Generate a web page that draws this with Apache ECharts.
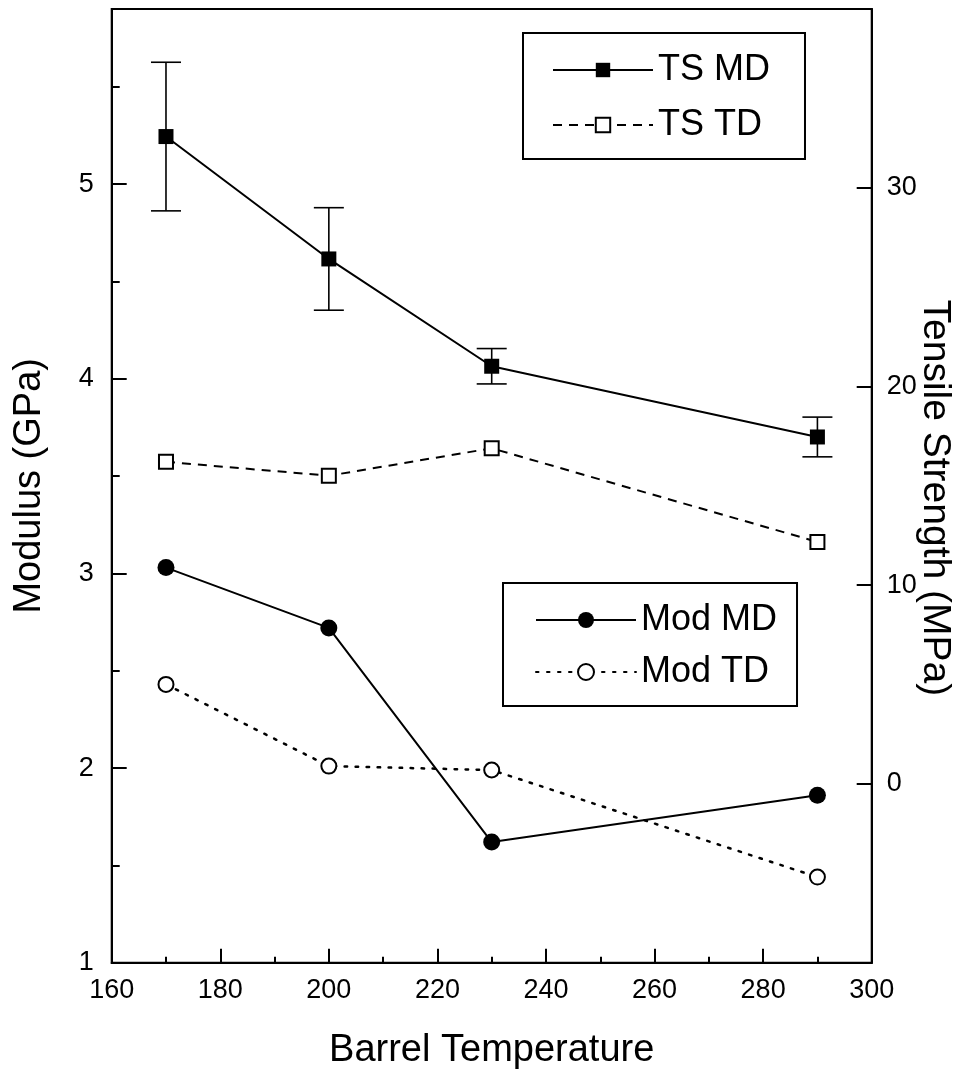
<!DOCTYPE html>
<html><head><meta charset="utf-8">
<script src="https://cdn.jsdelivr.net/npm/echarts@6/dist/echarts.min.js"></script>
<style>html,body{margin:0;padding:0;background:#fff}#c{width:960px;height:1074px}</style>
</head><body><div id="c"></div>
<script>
// ---- data ----
const temps = [170, 200, 230, 290];
const tsMD = [32.58, 26.42, 21.02, 17.46];
const tsMDErr = [3.74, 2.58, 0.89, 1.0];
const tsTD = [16.21, 15.51, 16.89, 12.18];
const modMD = [3.03, 2.72, 1.62, 1.86];
const modTD = [2.43, 2.01, 1.99, 1.44];
const modTicks = [1, 2, 3, 4, 5];
const modMinorTicks = [1.5, 2.5, 3.5, 4.5, 5.5];
const tsTicks = [0, 10, 20, 30];

const FONT = 'Liberation Sans, Arial, Helvetica, sans-serif';
const pair = (xs, ys) => xs.map((x, i) => [x, ys[i]]);
const errData = temps.map((x, i) => [x, tsMD[i] - tsMDErr[i], tsMD[i] + tsMDErr[i]]);

const chart = echarts.init(document.getElementById('c'), null, {renderer: 'canvas'});
const axisLineStyle = {color: '#000', width: 2};
chart.setOption({
  animation: false,
  backgroundColor: '#fff',
  textStyle: {fontFamily: FONT, color: '#000'},
  grid: {left: 111.7, right: 88.3, top: 9, bottom: 111.3, containLabel: false, outerBoundsMode: 'none',
         show: true, borderColor: '#000', borderWidth: 2, backgroundColor: 'transparent'},
  legend: [
    {
      data: ['TS MD', 'TS TD'], orient: 'vertical', left: 523, top: 33,
      padding: [19, 35, 16, 29], itemGap: 19, itemWidth: 100, itemHeight: 18,
      borderColor: '#000', borderWidth: 2, backgroundColor: '#fff',
      textStyle: {fontSize: 36, fontFamily: FONT, color: '#000'}
    },
    {
      data: ['Mod MD', 'Mod TD'], orient: 'vertical', left: 503, top: 583,
      padding: [19, 20, 16, 32], itemGap: 16, itemWidth: 100, itemHeight: 20,
      borderColor: '#000', borderWidth: 2, backgroundColor: '#fff',
      textStyle: {fontSize: 36, fontFamily: FONT, color: '#000'}
    }
  ],
  xAxis: {
    type: 'value', min: 160, max: 300, interval: 20,
    name: 'Barrel Temperature', nameLocation: 'middle', nameGap: 69,
    nameTextStyle: {fontSize: 38, fontFamily: FONT, color: '#000'},
    axisLine: {onZero: false, lineStyle: axisLineStyle},
    axisTick: {inside: true, length: 14, lineStyle: {color: '#000', width: 2}},
    minorTick: {show: true, splitNumber: 2, length: 6, lineStyle: {color: '#000', width: 2}},
    axisLabel: {fontSize: 27, color: '#000', fontFamily: FONT, margin: 14},
    splitLine: {show: false}
  },
  yAxis: [
    {
      type: 'value', position: 'left', min: 1, max: 5.9,
      name: 'Modulus (GPa)', nameLocation: 'middle', nameGap: 63, nameMoveOverlap: false,
      nameTextStyle: {fontSize: 38, fontFamily: FONT, color: '#000'},
      axisLine: {show: true, onZero: false, lineStyle: axisLineStyle},
      axisTick: {show: true, inside: true, length: 15, customValues: modTicks, lineStyle: {color: '#000', width: 2}},
      axisLabel: {fontSize: 27, color: '#000', fontFamily: FONT, margin: 18, customValues: modTicks},
      splitLine: {show: false}
    },
    {
      type: 'value', position: 'left', min: 1, max: 5.9,
      axisLine: {show: false, onZero: false},
      axisTick: {show: true, inside: true, length: 8, customValues: modMinorTicks, lineStyle: {color: '#000', width: 2}},
      axisLabel: {show: false},
      splitLine: {show: false}
    },
    {
      type: 'value', position: 'right', min: -9, max: 39,
      name: 'Tensile Strength (MPa)', nameLocation: 'middle', nameGap: 44, nameRotate: -90,
      nameMoveOverlap: false,
      nameTextStyle: {fontSize: 39, fontFamily: FONT, color: '#000', padding: [0, 0, 0, 24]},
      axisLine: {show: true, onZero: false, lineStyle: axisLineStyle},
      axisTick: {show: true, inside: true, length: 15, customValues: tsTicks, lineStyle: {color: '#000', width: 2}},
      axisLabel: {fontSize: 27, color: '#000', fontFamily: FONT, margin: 15, customValues: tsTicks},
      splitLine: {show: false}
    }
  ],
  series: [
    {
      type: 'custom', name: 'TS MD err', yAxisIndex: 2, z: 1,
      encode: {x: 0, y: [1, 2]},
      data: errData,
      renderItem: function (params, api) {
        const x = api.value(0);
        const top = api.coord([x, api.value(2)]);
        const bot = api.coord([x, api.value(1)]);
        const w = 15;
        const st = {stroke: '#000', lineWidth: 1.6};
        return {type: 'group', children: [
          {type: 'line', shape: {x1: top[0], y1: top[1], x2: bot[0], y2: bot[1]}, style: st},
          {type: 'line', shape: {x1: top[0] - w, y1: top[1], x2: top[0] + w, y2: top[1]}, style: st},
          {type: 'line', shape: {x1: bot[0] - w, y1: bot[1], x2: bot[0] + w, y2: bot[1]}, style: st}
        ]};
      }
    },
    {
      type: 'line', name: 'TS MD', yAxisIndex: 2, z: 3, data: pair(temps, tsMD),
      symbol: 'rect', symbolSize: 15, color: '#000',
      lineStyle: {color: '#000', width: 2, type: 'solid'},
      itemStyle: {color: '#000', borderWidth: 0}
    },
    {
      type: 'line', name: 'TS TD', yAxisIndex: 2, z: 3, data: pair(temps, tsTD),
      symbol: 'emptyRect', symbolSize: 14, color: '#000',
      lineStyle: {color: '#000', width: 2, type: [9, 7]},
      itemStyle: {color: '#000', borderWidth: 2.2}
    },
    {
      type: 'line', name: 'Mod MD', yAxisIndex: 0, z: 3, data: pair(temps, modMD),
      symbol: 'circle', symbolSize: 17, color: '#000',
      lineStyle: {color: '#000', width: 2, type: 'solid'},
      itemStyle: {color: '#000', borderWidth: 0}
    },
    {
      type: 'line', name: 'Mod TD', yAxisIndex: 0, z: 3, data: pair(temps, modTD),
      symbol: 'emptyCircle', symbolSize: 15, color: '#000',
      lineStyle: {color: '#000', width: 2.5, type: [2.5, 8.5], cap: 'round'},
      itemStyle: {color: '#000', borderWidth: 2.2}
    }
  ]
});
</script></body></html>
